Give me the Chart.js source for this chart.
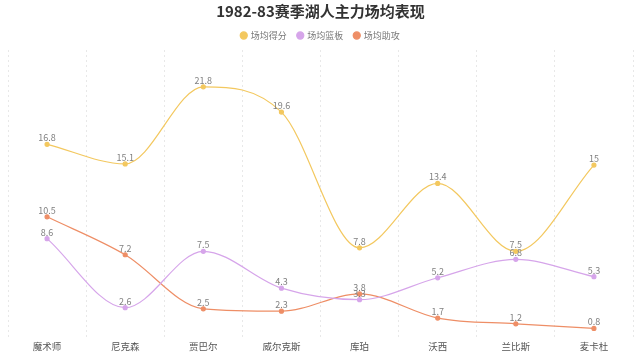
<!DOCTYPE html>
<html><head><meta charset="utf-8">
<script src="https://cdn.jsdelivr.net/npm/chart.js@4"></script>
<style>html,body{margin:0;padding:0;background:#fff}#w{width:640px;height:356px}</style>
</head><body><div id="w"><canvas id="c"></canvas></div>
<script>
const categories = ['魔术师','尼克森','贾巴尔','威尔克斯','库珀','沃西','兰比斯','麦卡杜'];
const points = [16.8, 15.1, 21.8, 19.6, 7.8, 13.4, 7.5, 15];
const rebounds = [8.6, 2.6, 7.5, 4.3, 3.3, 5.2, 6.8, 5.3];
const assists = [10.5, 7.2, 2.5, 2.3, 3.8, 1.7, 1.2, 0.8];
const seriesNames = ['场均得分','场均篮板','场均助攻'];
const titleText = '1982-83赛季湖人主力场均表现';

const FONT = "'Noto Sans CJK SC','Noto Sans',sans-serif";
const labelPlugin = {
  id: 'vlabels',
  afterDatasetsDraw(chart) {
    const ctx = chart.ctx;
    ctx.save();
    ctx.font = '9px ' + FONT;
    ctx.fillStyle = '#808080';
    ctx.textAlign = 'center';
    ctx.textBaseline = 'bottom';
    chart.data.datasets.forEach((ds, i) => {
      const meta = chart.getDatasetMeta(i);
      meta.data.forEach((el, j) => {
        ctx.fillText(String(ds.data[j]), el.x, el.y - 2);
      });
    });
    ctx.restore();
  }
};
function ds(label, data, color) {
  return {label, data, borderColor: color, backgroundColor: color,
    pointBackgroundColor: color, pointBorderColor: color,
    pointRadius: 2, pointHoverRadius: 2, borderWidth: 1.2,
    cubicInterpolationMode: 'monotone', fill: false, clip: false};
}
new Chart(document.getElementById('c'), {
  type: 'line',
  data: {
    labels: categories,
    datasets: [
      ds(seriesNames[0], points, '#f3c85f'),
      ds(seriesNames[1], rebounds, '#d6a5ea'),
      ds(seriesNames[2], assists, '#ee8e66')
    ]
  },
  options: {
    responsive: true, maintainAspectRatio: false, animation: false,
    layout: {padding: {left: 8, right: 7, top: 0, bottom: 1}},
    plugins: {
      title: {display: true, text: titleText, color: '#333', font: {size: 15, weight: 'bold', family: FONT, lineHeight: 1.2}, padding: {top: 2, bottom: 0}},
      legend: {labels: {usePointStyle: true, pointStyle: 'circle', boxWidth: 5, boxHeight: 5, color: '#777', font: {size: 9, family: FONT}, padding: 11}},
      tooltip: {enabled: false}
    },
    scales: {
      x: {offset: true,
        grid: {offset: true, display: true, color: '#e8e8e8', drawTicks: false, tickLength: 0},
        border: {display: false, dash: [2, 3]},
        ticks: {color: '#555', font: {size: 9.5, family: FONT}, padding: 3}},
      y: {display: false, min: 0, max: 25}
    }
  },
  plugins: [labelPlugin]
});
</script></body></html>
